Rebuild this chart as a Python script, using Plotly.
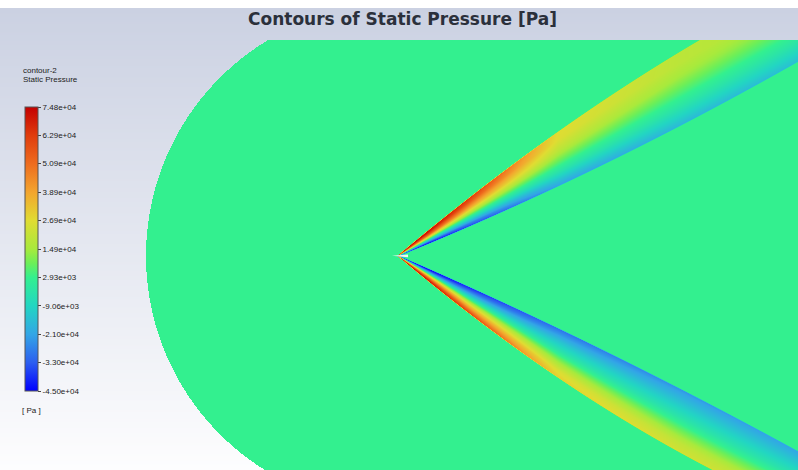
import numpy as np
import plotly.graph_objects as go

# ---------------- colour bar (Pa) ----------------
p_min, p_max = -45000.0, 74800.0
p_free = 2930.0
tick_values = [74800, 62900, 50900, 38900, 26900, 14900, 2930, -9060, -21000, -33000, -45000]
tick_labels = ["7.48e+04", "6.29e+04", "5.09e+04", "3.89e+04", "2.69e+04", "1.49e+04",
               "2.93e+03", "-9.06e+03", "-2.10e+04", "-3.30e+04", "-4.50e+04"]
scale_pos = [0.0, 0.1, 0.2, 0.3, 0.4, 0.45, 0.5, 0.6, 0.7, 0.8, 0.9, 1.0]
scale_col = ["#0000ff", "#2c5ef0", "#32a6e6", "#22d6c2", "#33f08f", "#6cef58", "#a8ea3c",
             "#e0dc32", "#f3a52e", "#ee6c1e", "#e03c0c", "#c40000"]

# ---------------- geometry (view coordinates) ----------------
tip_x, tip_y = 397.0, 256.0
dom_cx, dom_cy, dom_r = 398.0, 256.0, 252.0
dom_top, dom_bottom, dom_right = 40, 470, 798

# edge points (smooth curves are fitted through them)
upper_outer_x = [397, 467, 560, 700]
upper_outer_y = [256, 200, 130, 40]
upper_inner_x = [397, 480, 560, 798]
upper_inner_y = [256, 224, 184, 62]
lower_outer_x = [397, 473, 560, 713]
lower_outer_y = [256, 315, 380, 470]
lower_inner_x = [397, 480, 560, 798]
lower_inner_y = [256, 289, 331, 451]

wedge_x = [392, 408, 408, 392]
wedge_y = [255.7, 254.6, 257.2, 255.7]

# ---------------- pressure read across the two bands (Pa) ----------------
station_d = [0.0, 0.08, 0.18, 0.4, 0.7, 1.0]       # distance from tip (fraction)
across_s = [0.0, 0.15, 0.35, 0.55, 0.75, 0.9, 1.0]  # outer edge -> inner edge
upper_p = [
    [74800, 72000, 55000, 25000, -10000, -35000, -45000],
    [72000, 69000, 52000, 21000, -12000, -36000, -44000],
    [64000, 56000, 38000, 15000, -8000, -28000, -37000],
    [27000, 26000, 19000, 8000, -4000, -15000, -22000],
    [19000, 19000, 14000, 6000, -3000, -11000, -17000],
    [16000, 16000, 12000, 5000, -3000, -10000, -15000],
]
lower_p = [
    [74800, 70000, 50000, 18000, -18000, -40000, -45000],
    [72000, 64000, 42000, 10000, -22000, -40000, -44000],
    [62000, 47000, 26000, 2000, -20000, -34000, -40000],
    [30000, 25000, 12000, -3000, -14000, -24000, -30000],
    [24000, 20000, 9000, -3000, -12000, -19000, -24000],
    [22000, 18000, 8000, -3000, -11000, -17000, -21000],
]


def edge_curve(px, py, x):
    c = np.polyfit(np.asarray(px, float), np.asarray(py, float), 2)
    return np.polyval(c, x)


def table_value(d, s, table):
    tab = np.asarray(table, dtype=float)
    D = np.asarray(station_d)
    rows = np.stack([np.interp(s, across_s, r) for r in tab])  # K x N
    i = np.clip(np.searchsorted(D, d, side="right") - 1, 0, len(D) - 2)
    t = np.clip((d - D[i]) / (D[i + 1] - D[i]), 0, 1)
    n = np.arange(d.size)
    return rows[i, n] * (1 - t) + rows[i + 1, n] * t


xs = np.arange(0, dom_right) + 0.5
ys = np.arange(dom_top, dom_bottom) + 0.5
X, Y = np.meshgrid(xs, ys)
Z = np.full(X.shape, p_free)
d_all = np.clip((X - tip_x) / (800 - tip_x), 0, 1)

# upper band
yo = edge_curve(upper_outer_x, upper_outer_y, X)
yi = edge_curve(upper_inner_x, upper_inner_y, X)
w = np.clip(np.minimum(Y - yo, yi - Y) + 0.5, 0, 1)
m = (X > tip_x) & (w > 0) & (yi > yo)
s = np.clip((Y[m] - yo[m]) / (yi[m] - yo[m]), 0, 1)
Z[m] = p_free + w[m] * (table_value(d_all[m], s, upper_p) - p_free)

# lower band
yo = edge_curve(lower_outer_x, lower_outer_y, X)
yi = edge_curve(lower_inner_x, lower_inner_y, X)
w = np.clip(np.minimum(yo - Y, Y - yi) + 0.5, 0, 1)
m = (X > tip_x) & (w > 0) & (yo > yi)
s = np.clip((yo[m] - Y[m]) / (yo[m] - yi[m]), 0, 1)
Z[m] = p_free + w[m] * (table_value(d_all[m], s, lower_p) - p_free)

inside = ((X - dom_cx) ** 2 + (Y - dom_cy) ** 2 <= dom_r ** 2) | (X >= dom_cx)
Z[~inside] = np.nan
Z = Z.astype(np.float32)

# background gradient
bg_y = np.arange(8, 470) + 0.5
bg_z = np.stack([bg_y, bg_y], axis=1)

fig = go.Figure()
fig.add_trace(go.Heatmap(x=[0, 798], y=bg_y, z=bg_z, zsmooth=False, showscale=False,
                         colorscale=[[0, "#cbd1e2"], [1, "#fdfdfe"]], hoverinfo="skip"))
fig.add_trace(go.Heatmap(
    x0=0.5, dx=1, y0=dom_top + 0.5, dy=1, z=Z, zsmooth=False,
    zmin=p_min, zmax=p_max,
    colorscale=[[p, c] for p, c in zip(scale_pos, scale_col)],
    colorbar=dict(
        x=25 / 798, xanchor="left", xpad=0,
        y=1 - 107 / 470, yanchor="top", ypad=0,
        len=284, lenmode="pixels", thickness=13,
        outlinewidth=1, outlinecolor="#555555",
        tickmode="array", tickvals=tick_values, ticktext=tick_labels,
        ticks="outside", ticklen=3, tickcolor="#444444",
        tickfont=dict(family="Liberation Sans, Arial", size=8, color="#222222"),
    ),
    hoverinfo="skip",
))
fig.add_trace(go.Scatter(x=wedge_x, y=wedge_y, fill="toself", fillcolor="#f4f4f4",
                         line=dict(width=0), mode="lines", hoverinfo="skip", showlegend=False))

ann_font = dict(family="Liberation Sans, Arial", size=8, color="#222222")
fig.add_annotation(x=21, y=70, xref="x", yref="y", text="contour-2", showarrow=False,
                   xanchor="left", yanchor="middle", font=ann_font)
fig.add_annotation(x=21, y=79, xref="x", yref="y", text="Static Pressure", showarrow=False,
                   xanchor="left", yanchor="middle", font=ann_font)
fig.add_annotation(x=20, y=410, xref="x", yref="y", text="[ Pa ]", showarrow=False,
                   xanchor="left", yanchor="middle", font=ann_font)
fig.add_annotation(x=402, y=19, xref="x", yref="y", text="<b>Contours of Static Pressure [Pa]</b>",
                   showarrow=False, xanchor="center", yanchor="middle",
                   font=dict(family="DejaVu Sans", size=17, color="#2b303b"))

fig.update_layout(
    width=798, height=470, margin=dict(l=0, r=0, t=0, b=0),
    paper_bgcolor="white", plot_bgcolor="white", showlegend=False,
    xaxis=dict(range=[0, 798], visible=False, fixedrange=True),
    yaxis=dict(range=[470, 0], visible=False, fixedrange=True),
)
fig.write_html("out.html")
